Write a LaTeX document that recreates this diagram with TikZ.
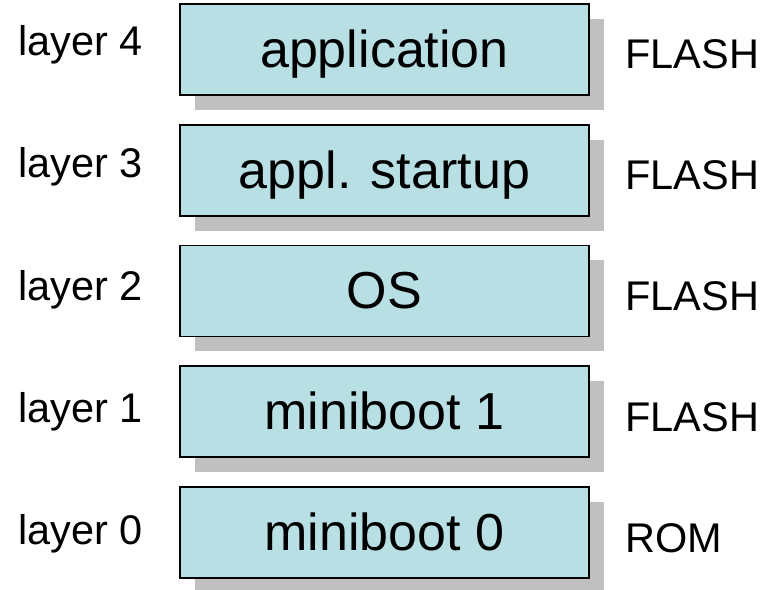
\documentclass[tikz,border=0pt]{standalone}
\usepackage{fontspec}
\setmainfont{Liberation Sans}
\usepackage{xcolor}
\usepackage{tikz}
\usetikzlibrary{shadows}

\definecolor{layerfill}{RGB}{184,224,228}
\definecolor{shadowgray}{RGB}{192,192,192}

\begin{document}
\begin{tikzpicture}[
  layer_box/.style={draw=black, line width=1.4pt, fill=layerfill, minimum width=10.225cm, minimum height=2.275cm,
    inner sep=0pt, text height=33.4pt, text depth=7.8pt, font=\fontsize{37}{44}\selectfont,
    drop shadow={shadow xshift=0.375cm, shadow yshift=-0.375cm, fill=shadowgray, opacity=1}},
  layer_label/.style={anchor=base west, inner sep=0pt, font=\fontsize{29.5}{35}\selectfont},
  mem_label/.style={anchor=base west, inner sep=0pt, font=\fontsize{29.5}{35}\selectfont}
]
  \useasboundingbox (0,0) rectangle (19.25,14.75);

  % Boot layers, bottom to top
  \node (boot0) [layer_box] at (9.6125, 1.4375) {miniboot 0};
  \node (boot1) [layer_box] at (9.6125, 4.456) {miniboot 1};
  \node (os) [layer_box] at (9.6125, 7.475) {OS};
  \node (startup) [layer_box] at (9.6125, 10.49) {appl. startup};
  \node (appl) [layer_box] at (9.6125, 13.51) {application};

  % Layer numbers on the left
  \node (lay0) [layer_label] at (0.45, 1.125) {layer 0};
  \node (lay1) [layer_label] at (0.45, 4.175) {layer 1};
  \node (lay2) [layer_label] at (0.45, 7.24) {layer 2};
  \node (lay3) [layer_label] at (0.45, 10.3) {layer 3};
  \node (lay4) [layer_label] at (0.45, 13.35) {layer 4};

  % Memory type on the right
  \node (mem0) [mem_label] at (15.625, 0.925) {ROM};
  \node (mem1) [mem_label] at (15.625, 3.95) {FLASH};
  \node (mem2) [mem_label] at (15.625, 6.975) {FLASH};
  \node (mem3) [mem_label] at (15.625, 10.0) {FLASH};
  \node (mem4) [mem_label] at (15.625, 13.025) {FLASH};

\end{tikzpicture}
\end{document}
